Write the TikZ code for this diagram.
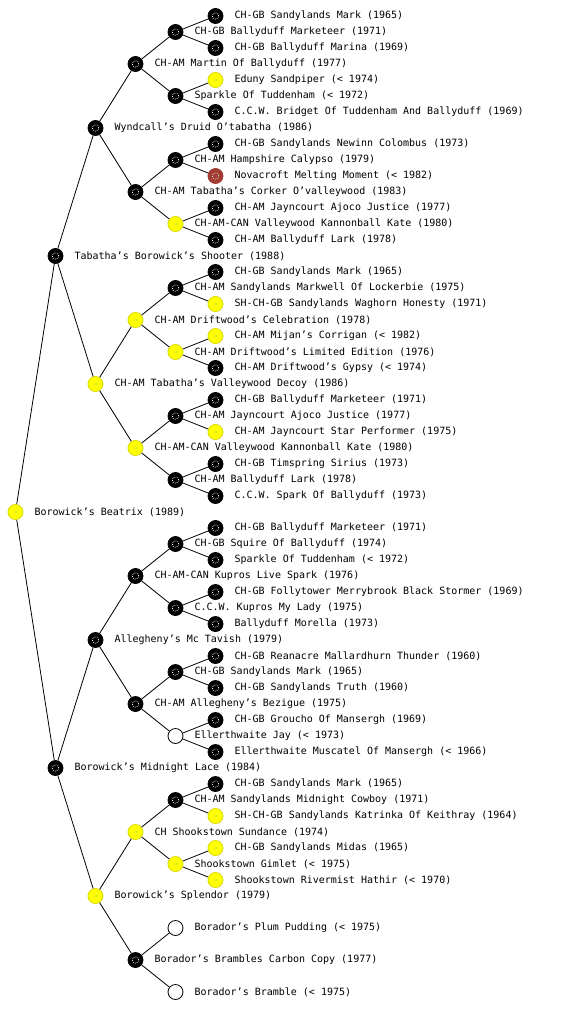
\documentclass[tikz,border=0pt]{standalone}
\usepackage{fontspec}
\setmainfont{DejaVu Sans Mono}
\definecolor{dogyellow}{RGB}{255,255,0}
\definecolor{dogred}{RGB}{160,60,50}
\tikzset{
  dog/.style={circle, minimum size=15pt, inner sep=0pt, draw=black, line width=0.8pt},
  bk/.style={fill=black, path picture={\draw[white, line width=0.7pt, dash pattern=on 0.8pt off 1.2pt] (path picture bounding box.center) circle (3.2pt);}},
  yw/.style={fill=dogyellow, draw=dogyellow!85!black, path picture={\draw[black!40, line width=0.6pt, dash pattern=on 0.6pt off 2pt] (path picture bounding box.center) circle (1.5pt);}},
  rd/.style={fill=dogred, draw=dogred, path picture={\draw[white!80!dogred, line width=0.7pt, dash pattern=on 0.8pt off 1.2pt] (path picture bounding box.center) circle (3.2pt);}},
  wt/.style={fill=white, draw=black},
  lbl/.style={font=\fontsize{10pt}{11pt}\selectfont, inner sep=0pt, text=black},
  edge/.style={draw=black, line width=0.8pt},
  every label/.style={lbl},
  label distance=11pt
}
\newcommand{\dg}[5]{\node[dog,#4,label={0:{#5}}] (#1) at (#2,#3) {};}
\begin{document}
\begin{tikzpicture}[x=1pt,y=-1pt]
\useasboundingbox[fill=white] (0,0) rectangle (560,1024);
% generation 0
\dg{r}{15.5}{512}{yw}{Borowick's Beatrix (1989)}
% generation 1
\dg{a}{55.5}{256}{bk}{Tabatha's Borowick's Shooter (1988)}
\dg{b}{55.5}{768}{bk}{Borowick's Midnight Lace (1984)}
% generation 2
\dg{aa}{95.5}{128}{bk}{Wyndcall's Druid O'tabatha (1986)}
\dg{ab}{95.5}{384}{yw}{CH-AM Tabatha's Valleywood Decoy (1986)}
\dg{ba}{95.5}{640}{bk}{Allegheny's Mc Tavish (1979)}
\dg{bb}{95.5}{896}{yw}{Borowick's Splendor (1979)}
% generation 3
\dg{aaa}{135.5}{64}{bk}{CH-AM Martin Of Ballyduff (1977)}
\dg{aab}{135.5}{192}{bk}{CH-AM Tabatha's Corker O'valleywood (1983)}
\dg{aba}{135.5}{320}{yw}{CH-AM Driftwood's Celebration (1978)}
\dg{abb}{135.5}{448}{yw}{CH-AM-CAN Valleywood Kannonball Kate (1980)}
\dg{baa}{135.5}{576}{bk}{CH-AM-CAN Kupros Live Spark (1976)}
\dg{bab}{135.5}{704}{bk}{CH-AM Allegheny's Bezigue (1975)}
\dg{bba}{135.5}{832}{yw}{CH Shookstown Sundance (1974)}
\dg{bbb}{135.5}{960}{bk}{Borador's Brambles Carbon Copy (1977)}
% generation 4
\dg{aaaa}{175.5}{32}{bk}{CH-GB Ballyduff Marketeer (1971)}
\dg{aaab}{175.5}{96}{bk}{Sparkle Of Tuddenham (< 1972)}
\dg{aaba}{175.5}{160}{bk}{CH-AM Hampshire Calypso (1979)}
\dg{aabb}{175.5}{224}{yw}{CH-AM-CAN Valleywood Kannonball Kate (1980)}
\dg{abaa}{175.5}{288}{bk}{CH-AM Sandylands Markwell Of Lockerbie (1975)}
\dg{abab}{175.5}{352}{yw}{CH-AM Driftwood's Limited Edition (1976)}
\dg{abba}{175.5}{416}{bk}{CH-AM Jayncourt Ajoco Justice (1977)}
\dg{abbb}{175.5}{480}{bk}{CH-AM Ballyduff Lark (1978)}
\dg{baaa}{175.5}{544}{bk}{CH-GB Squire Of Ballyduff (1974)}
\dg{baab}{175.5}{608}{bk}{C.C.W. Kupros My Lady (1975)}
\dg{baba}{175.5}{672}{bk}{CH-GB Sandylands Mark (1965)}
\dg{babb}{175.5}{736}{wt}{Ellerthwaite Jay (< 1973)}
\dg{bbaa}{175.5}{800}{bk}{CH-AM Sandylands Midnight Cowboy (1971)}
\dg{bbab}{175.5}{864}{yw}{Shookstown Gimlet (< 1975)}
\dg{bbba}{175.5}{928}{wt}{Borador's Plum Pudding (< 1975)}
\dg{bbbb}{175.5}{992}{wt}{Borador's Bramble (< 1975)}
% generation 5
\dg{aaaa1}{215.5}{16}{bk}{CH-GB Sandylands Mark (1965)}
\dg{aaaa2}{215.5}{48}{bk}{CH-GB Ballyduff Marina (1969)}
\dg{aaab1}{215.5}{80}{yw}{Eduny Sandpiper (< 1974)}
\dg{aaab2}{215.5}{112}{bk}{C.C.W. Bridget Of Tuddenham And Ballyduff (1969)}
\dg{aaba1}{215.5}{144}{bk}{CH-GB Sandylands Newinn Colombus (1973)}
\dg{aaba2}{215.5}{176}{rd}{Novacroft Melting Moment (< 1982)}
\dg{aabb1}{215.5}{208}{bk}{CH-AM Jayncourt Ajoco Justice (1977)}
\dg{aabb2}{215.5}{240}{bk}{CH-AM Ballyduff Lark (1978)}
\dg{abaa1}{215.5}{272}{bk}{CH-GB Sandylands Mark (1965)}
\dg{abaa2}{215.5}{304}{yw}{SH-CH-GB Sandylands Waghorn Honesty (1971)}
\dg{abab1}{215.5}{336}{yw}{CH-AM Mijan's Corrigan (< 1982)}
\dg{abab2}{215.5}{368}{bk}{CH-AM Driftwood's Gypsy (< 1974)}
\dg{abba1}{215.5}{400}{bk}{CH-GB Ballyduff Marketeer (1971)}
\dg{abba2}{215.5}{432}{yw}{CH-AM Jayncourt Star Performer (1975)}
\dg{abbb1}{215.5}{464}{bk}{CH-GB Timspring Sirius (1973)}
\dg{abbb2}{215.5}{496}{bk}{C.C.W. Spark Of Ballyduff (1973)}
\dg{baaa1}{215.5}{528}{bk}{CH-GB Ballyduff Marketeer (1971)}
\dg{baaa2}{215.5}{560}{bk}{Sparkle Of Tuddenham (< 1972)}
\dg{baab1}{215.5}{592}{bk}{CH-GB Follytower Merrybrook Black Stormer (1969)}
\dg{baab2}{215.5}{624}{bk}{Ballyduff Morella (1973)}
\dg{baba1}{215.5}{656}{bk}{CH-GB Reanacre Mallardhurn Thunder (1960)}
\dg{baba2}{215.5}{688}{bk}{CH-GB Sandylands Truth (1960)}
\dg{babb1}{215.5}{720}{bk}{CH-GB Groucho Of Mansergh (1969)}
\dg{babb2}{215.5}{752}{bk}{Ellerthwaite Muscatel Of Mansergh (< 1966)}
\dg{bbaa1}{215.5}{784}{bk}{CH-GB Sandylands Mark (1965)}
\dg{bbaa2}{215.5}{816}{yw}{SH-CH-GB Sandylands Katrinka Of Keithray (1964)}
\dg{bbab1}{215.5}{848}{yw}{CH-GB Sandylands Midas (1965)}
\dg{bbab2}{215.5}{880}{yw}{Shookstown Rivermist Hathir (< 1970)}
% connectors
\foreach \p/\c in {r/a,r/b,a/aa,a/ab,b/ba,b/bb,
  aa/aaa,aa/aab,ab/aba,ab/abb,ba/baa,ba/bab,bb/bba,bb/bbb,
  aaa/aaaa,aaa/aaab,aab/aaba,aab/aabb,aba/abaa,aba/abab,abb/abba,abb/abbb,
  baa/baaa,baa/baab,bab/baba,bab/babb,bba/bbaa,bba/bbab,bbb/bbba,bbb/bbbb,
  aaaa/aaaa1,aaaa/aaaa2,aaab/aaab1,aaab/aaab2,aaba/aaba1,aaba/aaba2,aabb/aabb1,aabb/aabb2,
  abaa/abaa1,abaa/abaa2,abab/abab1,abab/abab2,abba/abba1,abba/abba2,abbb/abbb1,abbb/abbb2,
  baaa/baaa1,baaa/baaa2,baab/baab1,baab/baab2,baba/baba1,baba/baba2,babb/babb1,babb/babb2,
  bbaa/bbaa1,bbaa/bbaa2,bbab/bbab1,bbab/bbab2}
  \draw[edge] (\p) -- (\c);
\end{tikzpicture}
\end{document}
